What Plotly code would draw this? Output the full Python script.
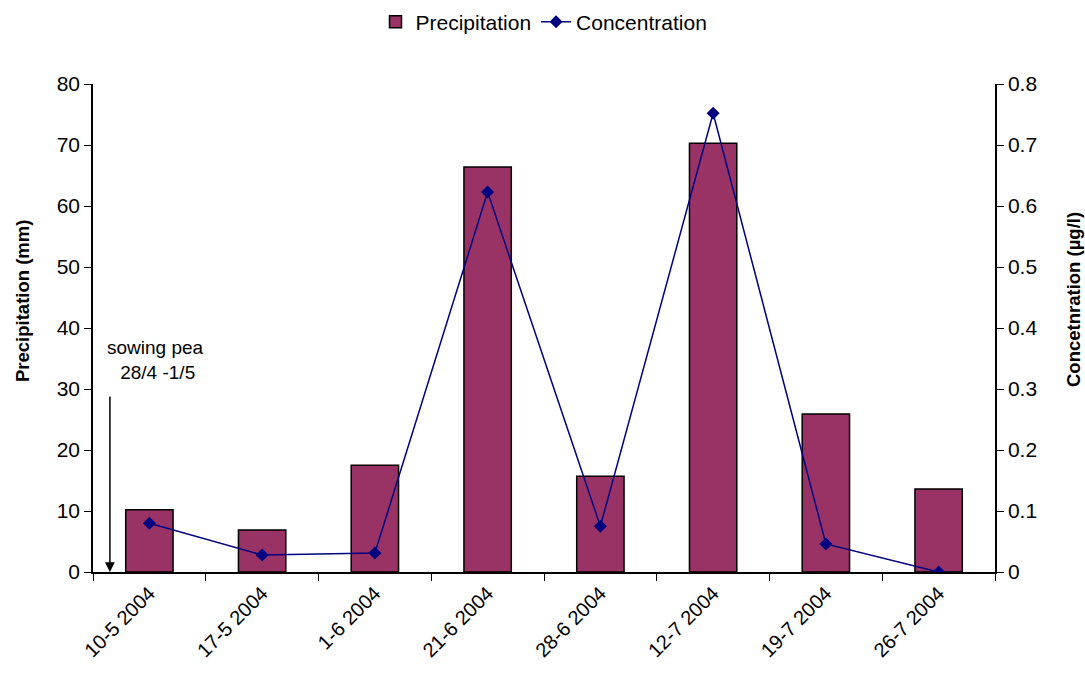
import plotly.graph_objects as go

dates = ["10-5 2004", "17-5 2004", "1-6 2004", "21-6 2004", "28-6 2004",
         "12-7 2004", "19-7 2004", "26-7 2004"]
precipitation = [10.2, 6.9, 17.5, 66.4, 15.7, 70.3, 25.9, 13.6]
concentration = [0.080, 0.028, 0.031, 0.623, 0.075, 0.752, 0.046, 0.0]

FONT = "Liberation Sans, Arial, sans-serif"
TICK = 21

fig = go.Figure()
fig.add_trace(go.Bar(
    x=dates, y=precipitation, name="Precipitation",
    marker=dict(color="#993366", line=dict(color="black", width=1.5)),
    width=0.42,
))
fig.add_trace(go.Scatter(
    x=dates, y=concentration, name="Concentration",
    yaxis="y2", mode="lines+markers",
    line=dict(color="#000080", width=1.5),
    marker=dict(symbol="diamond", size=10, color="#000080"),
))

axis_common = dict(showgrid=False, zeroline=False, tickcolor="black", ticklen=7)

fig.update_layout(
    width=1085, height=685,
    margin=dict(l=93, r=90, t=84, b=113, autoexpand=False),
    plot_bgcolor="white", paper_bgcolor="white",
    font=dict(family=FONT, size=TICK, color="black"),
    showlegend=True,
    legend=dict(orientation="h", x=0.5, xanchor="center", y=1.127, yanchor="middle",
                font=dict(size=TICK), traceorder="normal"),
    xaxis=dict(
        type="category", tickangle=-45, range=[-0.5, len(dates) - 0.5],
        showline=True, linecolor="black", linewidth=1.5,
        ticks="outside", tickson="boundaries", tickfont=dict(size=20),
        **axis_common,
    ),
    yaxis=dict(
        range=[0, 80], dtick=10, showline=True, linecolor="black", linewidth=1.5,
        ticks="outside", **axis_common,
    ),
    yaxis2=dict(
        range=[0, 0.8], dtick=0.1, overlaying="y", side="right",
        showline=True, linecolor="black", linewidth=1.5,
        ticks="outside", **axis_common,
    ),
    yaxis3=dict(
        range=[0, 80], dtick=10, overlaying="y", side="left", anchor="x",
        showline=False, showticklabels=False, ticks="inside", **axis_common,
    ),
    yaxis4=dict(
        range=[0, 0.8], dtick=0.1, overlaying="y", side="right", anchor="x",
        showline=False, showticklabels=False, ticks="inside", **axis_common,
    ),
)

# axis titles (positioned like the original)
fig.add_annotation(xref="paper", yref="paper", x=(22 - 93) / 902, y=(572 - 301) / 488,
                   text="<b>Precipitation (mm)</b>", textangle=-90, showarrow=False,
                   font=dict(size=18.5), xanchor="center", yanchor="middle")
fig.add_annotation(xref="paper", yref="paper", x=(1073 - 93) / 902, y=(572 - 300) / 488,
                   text="<b>Concetnration (µg/l)</b>", textangle=-90, showarrow=False,
                   font=dict(size=18.5), xanchor="center", yanchor="middle")

fig.add_annotation(x=-0.5, xanchor="left", xshift=12, y=38.8, yref="y",
                   text="sowing pea<br> 28/4 -1/5", showarrow=False, align="center",
                   font=dict(size=19), yanchor="top")
fig.add_annotation(x=-0.35, y=0, ax=-0.35, ay=29, xref="x", yref="y",
                   axref="x", ayref="y", showarrow=True, arrowhead=2,
                   arrowsize=1.3, arrowwidth=1.5, arrowcolor="black", text="")

fig.write_html("out.html")
